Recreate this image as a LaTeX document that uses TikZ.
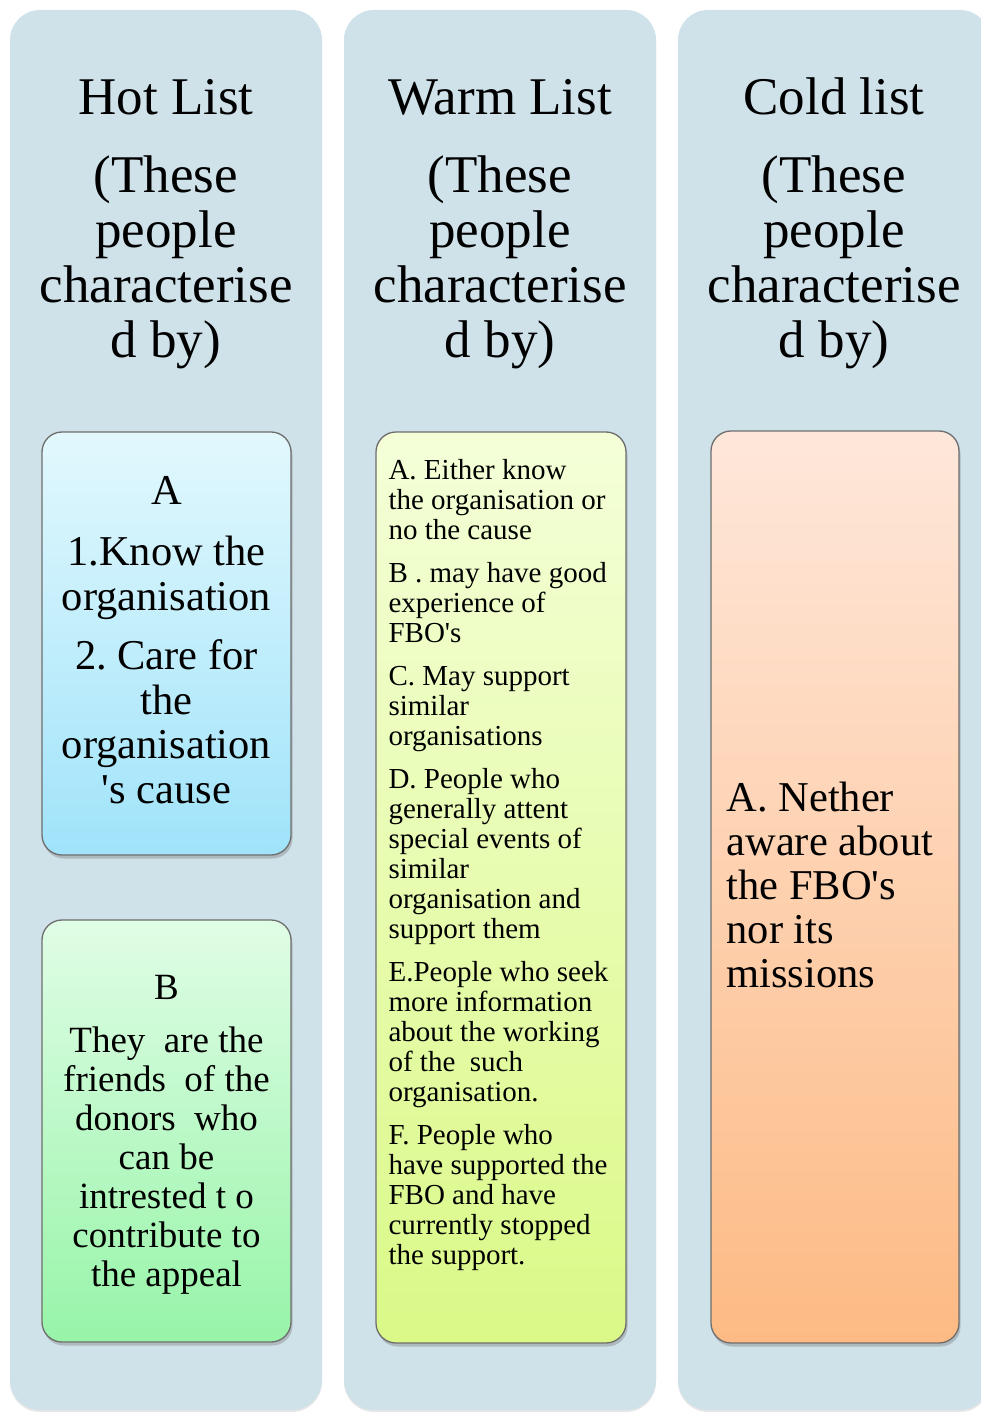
\documentclass[tikz,border=0pt]{standalone}
\usepackage{fontspec}
\setmainfont{Liberation Serif}
\frenchspacing
\usetikzlibrary{shadows}
\definecolor{colbg}{HTML}{CFE1E9}
\definecolor{cardline}{HTML}{6E6E6E}
\definecolor{hottop}{HTML}{E2F8FD}
\definecolor{hotbot}{HTML}{A0E3FA}
\definecolor{friendtop}{HTML}{E0FDE6}
\definecolor{friendbot}{HTML}{97F4A8}
\definecolor{warmtop}{HTML}{F4FFD8}
\definecolor{warmbot}{HTML}{DAF987}
\definecolor{coldtop}{HTML}{FEE7DA}
\definecolor{coldbot}{HTML}{FDBA84}

\begin{document}
\begin{tikzpicture}[x=1pt,y=-1pt,
    column/.style={fill=colbg,rounded corners=30pt,minimum width=312pt,minimum height=1400pt,
        drop shadow={shadow xshift=0pt,shadow yshift=-2pt,opacity=0.2}},
    card/.style={draw=cardline,line width=1.3pt,rounded corners=20pt,
        drop shadow={shadow xshift=1.5pt,shadow yshift=-3.5pt,opacity=0.4}},
    heading/.style={anchor=base,inner sep=0pt,text width=320pt,align=flush center,
        font=\fontsize{53}{55}\selectfont},
    bigtext/.style={inner sep=0pt,text width=250pt,font=\fontsize{42.5}{44.5}\selectfont},
    smalltext/.style={anchor=base west,inner sep=0pt,text width=245pt,align=flush left,
        font=\fontsize{29}{30}\selectfont}]
    \useasboundingbox (0,0) rectangle (980,1412);
    % the three lists
    \node[column] (hotcol) at (166,710) {};
    \node[column] (warmcol) at (500,710) {};
    \node[column] (coldcol) at (834,710) {};
    \node[heading] (hottitle) at ([yshift=-105pt]hotcol.north) {Hot List\\[23pt] (These\\ people\\ characterise\\ d by)};
    \node[heading] (warmtitle) at ([yshift=-105pt]warmcol.north) {Warm List\\[23pt] (These\\ people\\ characterise\\ d by)};
    \node[heading] (coldtitle) at ([yshift=-105pt]coldcol.north) {Cold list\\[23pt] (These\\ people\\ characterise\\ d by)};
    % hot list
    \node[card,top color=hottop,bottom color=hotbot,minimum width=249pt,minimum height=423pt] (hota) at (166.5,643.5) {};
    \node[bigtext,anchor=base,align=flush center] (hotatext) at ([yshift=-73pt]hota.north)
        {A\\[17pt] 1.Know the\\ organisation\\[15pt] 2. Care for\\ the\\ organisation\\ \textquotesingle s cause};
    \node[card,top color=friendtop,bottom color=friendbot,minimum width=249pt,minimum height=422pt] (hotb) at (166.5,1131) {};
    \node[bigtext,anchor=base,align=flush center,font=\fontsize{37}{39}\selectfont] (hotbtext) at ([yshift=-80pt]hotb.north)
        {B\\[14pt] They\ \ are the\\ friends\ \ of the\\ donors\ \ who\\ can be\\ intrested t o\\ contribute to\\ the appeal};
    % warm list
    \node[card,top color=warmtop,bottom color=warmbot,minimum width=250pt,minimum height=911pt] (warm) at (501,887.5) {};
    \node[smalltext] (warmtext) at ([xshift=13pt,yshift=-48pt]warm.north west)
        {A. Either know\\ the organisation or\\ no the cause\\[13pt]
         B . may have good\\ experience of\\ FBO\textquotesingle s\\[13pt]
         C. May support\\ similar\\ organisations\\[13pt]
         D. People who\\ generally attent\\ special events of\\ similar\\ organisation and\\ support them\\[13pt]
         E.People who seek\\ more information\\ about the working\\ of the\ \ such\\ organisation.\\[13pt]
         F. People who\\ have supported the\\ FBO and have\\ currently stopped\\ the support.};
    % cold list
    \node[card,top color=coldtop,bottom color=coldbot,minimum width=248pt,minimum height=912pt] (cold) at (835,887) {};
    \node[bigtext,anchor=base west,align=flush left,font=\fontsize{42.5}{44}\selectfont] (coldtext) at ([xshift=16pt,yshift=-381pt]cold.north west)
        {A. Nether\\ aware about\\ the FBO\textquotesingle s\\ nor its\\ missions};
\end{tikzpicture}
\end{document}
